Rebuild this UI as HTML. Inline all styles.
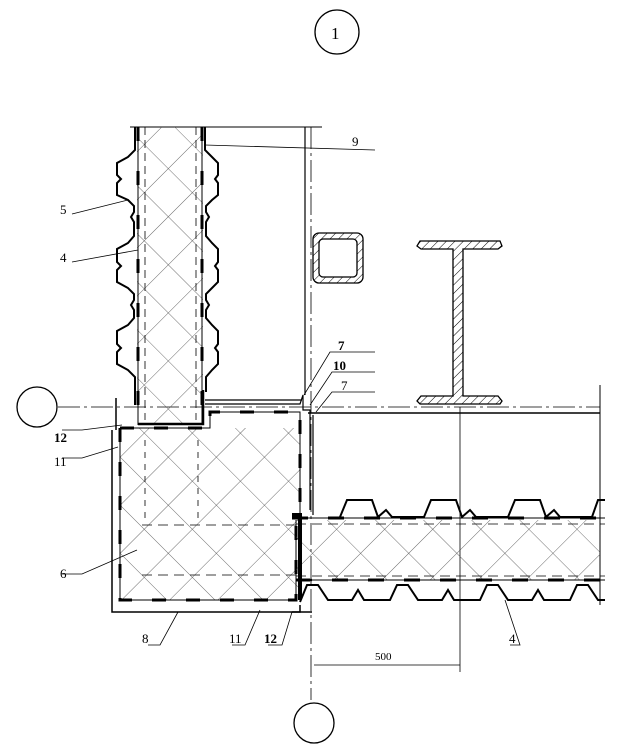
<!DOCTYPE html>
<html><head><style>html,body{margin:0;padding:0;background:#fff}svg{display:block}</style></head><body>
<svg width="619" height="753" viewBox="0 0 619 753" xmlns="http://www.w3.org/2000/svg" font-family="Liberation Serif, serif">
<defs>
<pattern id="x" width="34" height="34" patternUnits="userSpaceOnUse" patternTransform="rotate(45)">
<path d="M0 0H34M0 0V34" stroke="#444" stroke-width="0.8" fill="none"/></pattern>
<pattern id="h" width="6" height="6" patternUnits="userSpaceOnUse" patternTransform="rotate(45)">
<path d="M0 0V6" stroke="#000" stroke-width="1"/></pattern>
</defs>
<g fill="none" stroke="#000">
<circle cx="337" cy="32" r="22" stroke-width="1.3"/>
<circle cx="37" cy="407" r="20" stroke-width="1.3"/>
<circle cx="314" cy="723" r="20" stroke-width="1.3"/>
<path d="M58 407H600" stroke-width="0.8" stroke-dasharray="22 4 3 4"/>
<path d="M311 127V700" stroke-width="0.8" stroke-dasharray="22 4 3 4"/>
<path d="M130 127H322" stroke-width="1"/>
<path d="M305 127V395" stroke-width="1.2"/>
<path d="M600 385V605" stroke-width="1"/>
<path d="M460 407V672M314 665H460" stroke-width="0.8"/>
<path d="M308 413H600" stroke-width="1.4"/>
<!-- vertical panel -->
<rect x="137" y="127" width="66" height="298" fill="url(#x)" stroke="none"/>
<path d="M138 127V425M202 127V425" stroke-width="1"/>
<path d="M138 127V425M202 127V425" stroke-width="3" stroke-dasharray="14 30"/>
<path d="M145 127V420M196 127V420" stroke-width="0.8" stroke-dasharray="8 5"/>
<path d="M135 127V150L128 157 117 163V175L121 179 117 183V195L128 200 134 206V212L131 217 134 222V236L128 243 117 249V262L121 266 117 270V282L128 288 134 294V300L131 305 134 310V318L128 325 117 331V344L121 348 117 352V364L128 370 135 377V405" stroke-width="2"/>
<path d="M205 127V150L212 157 218 163V175L215 179 218 183V195L212 200 206 206V212L209 217 206 222V236L212 243 218 249V262L215 266 218 270V282L212 288 206 294V300L209 305 206 310V318L212 325 218 331V344L215 348 218 352V364L212 370 206 377V392" stroke-width="2"/>
<path d="M138 424H203V390" stroke-width="2.5"/>
<!-- tube -->
<rect x="313" y="233" width="50" height="50" rx="6" fill="url(#h)" stroke-width="1.3"/>
<rect x="319" y="239" width="38" height="38" rx="4" fill="#fff" stroke-width="1.3"/>
<!-- I-beam -->
<path d="M420 241H500L502 246 498 249H463V396H498L502 401 500 404H420L417 401 421 396H453V249H421L417 246Z" fill="url(#h)" stroke-width="1.3"/>
<!-- corner block -->
<rect x="120" y="428" width="180" height="172" fill="url(#x)" stroke="none"/>
<path d="M120 428V600H296V520M120 428H210V412H300V520" stroke-width="1"/>
<path d="M120 428V600H296V520M120 428H210V412H300V520" stroke-width="3" stroke-dasharray="14 20"/>
<path d="M112 430V612H300V605M116 398V430" stroke-width="1.5"/>
<path d="M205 404H300L303 395 303 410 310 410V510" stroke-width="1.2"/>
<path d="M205 400H302M313 415V515" stroke-width="1.2"/>
<path d="M142 525H296M142 575H296" stroke-width="0.8" stroke-dasharray="10 6"/>
<path d="M145 440V520M198 440V520" stroke-width="0.8" stroke-dasharray="6 6"/>
<path d="M292 612H312" stroke-width="1.5"/>
<!-- horizontal panel -->
<rect x="296" y="520" width="304" height="60" fill="url(#x)" stroke="none"/>
<path d="M292 518H605M296 580H605" stroke-width="1"/>
<path d="M292 518H605M296 580H605" stroke-width="3" stroke-dasharray="16 20"/>
<path d="M296 524H605M296 576H605" stroke-width="0.8" stroke-dasharray="10 6"/>
<path d="M292 515H300V600" stroke-width="4"/>
<path d="M340 517L347 500 372 500 378 517 386 510 392 517 424 517 431 500 456 500 462 517 470 510 476 517 508 517 515 500 540 500 546 517 554 510 560 517 592 517 598 500 605 500" stroke-width="2"/>
<path d="M300 602L307 585 318 585 328 600 352 600 358 590 364 600 390 600 397 585 408 585 418 600 442 600 448 590 454 600 480 600 487 585 498 585 508 600 532 600 538 590 544 600 570 600 577 585 588 585 598 600 605 600" stroke-width="2"/>
<g stroke-width="0.8">
<path d="M205 145L375 150M72 214L128 200M72 262L138 250M304 395L330 352H375M310 405L332 372H375M316 412L332 392H375M62 430H82L122 425M62 458H82L118 447M62 574H82L137 550M148 645H160L178 612M232 645H245L260 610M268 645H282L292 612M510 645H520L505 600"/>
</g>
</g>
<g font-size="13" fill="#000">
<text x="331" y="39" font-size="17">1</text>
<text x="352" y="146">9</text>
<text x="60" y="214">5</text>
<text x="60" y="262">4</text>
<text x="338" y="350" font-weight="bold">7</text>
<text x="333" y="370" font-weight="bold">10</text>
<text x="341" y="390">7</text>
<text x="54" y="442" font-weight="bold">12</text>
<text x="54" y="466">11</text>
<text x="60" y="578">6</text>
<text x="142" y="643">8</text>
<text x="229" y="643">11</text>
<text x="264" y="643" font-weight="bold">12</text>
<text x="509" y="643">4</text>
<text x="375" y="660" font-size="11">500</text>
</g>
</svg>
</body></html>
